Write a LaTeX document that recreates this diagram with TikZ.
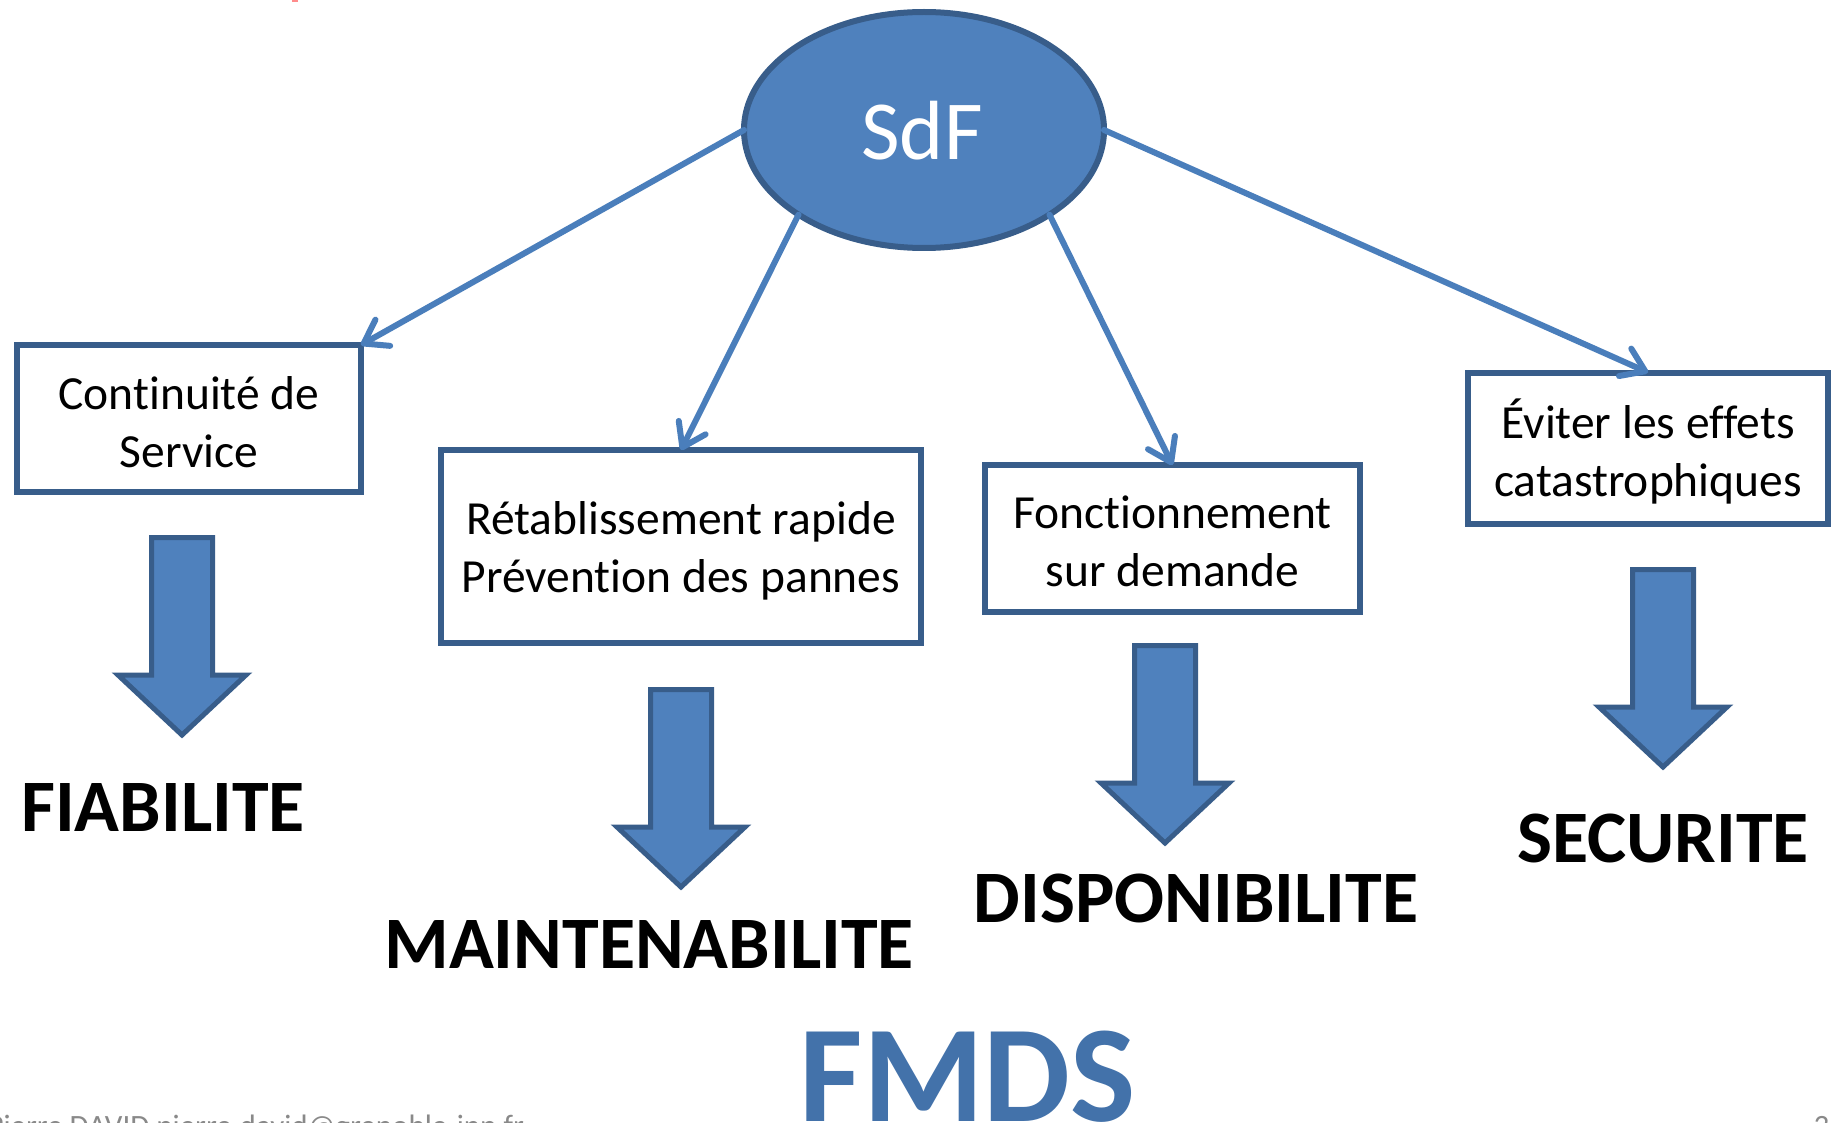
\documentclass[tikz,border=0pt]{standalone}
\usepackage{fontspec}
\setmainfont{Carlito}[Ligatures=NoCommon, Contextuals=NoAlternate, RawFeature={-clig}]
\usetikzlibrary{arrows.meta,shapes.geometric}

\definecolor{sdfblue}{RGB}{79,129,189}
\definecolor{sdfdark}{RGB}{56,93,138}
\definecolor{linkblue}{RGB}{74,126,187}
\definecolor{titleblue}{RGB}{67,114,170}
\definecolor{footgray}{RGB}{137,137,137}

\tikzset{
  rootnode/.style={ellipse, draw=sdfdark, fill=sdfblue, line width=6pt,
    minimum width=360pt, minimum height=236pt, inner sep=0pt, outer sep=0pt},
  textbox/.style={rectangle, draw=sdfdark, fill=white, line width=6pt,
    inner sep=0pt, outer sep=0pt, align=center,
    font=\fontsize{47.5}{58}\selectfont},
  boxtext/.style={align=center, font=\fontsize{47.5}{58}\selectfont},
  conn/.style={draw=linkblue, line width=6pt, line cap=round,
    -{Straight Barb[round, length=22pt, width=30pt]}},
  bigarrow/.style={fill=sdfblue, draw=sdfdark, line width=5pt, line join=miter},
  quality/.style={anchor=base, font=\fontsize{74}{80}\selectfont\bfseries},
  footer/.style={anchor=base west, text=footgray, font=\fontsize{31}{36}\selectfont}
}

% thick downward block arrow: centre x, top y
\newcommand{\blockdown}[2]{%
  \draw[bigarrow] (#1-30.5,#2+2.5) -- (#1+30.5,#2+2.5) -- (#1+30.5,#2+140)
    -- (#1+64,#2+140) -- (#1,#2+200) -- (#1-64,#2+140) -- (#1-30.5,#2+140) -- cycle;}

\begin{document}
\begin{tikzpicture}[x=1pt, y=-1pt]
  \useasboundingbox (0,0) rectangle (1831,1123);
  \clip (0,0) rectangle (1831,1123);
  \fill[white] (0,0) rectangle (1831,1123);

  % fragment of a heading above the frame
  \fill[red!45!white] (292,0) rectangle (298,2);

  % root
  \node[rootnode] (sdf) at (924,130) {};
  \node[anchor=base, text=white, font=\fontsize{84}{100}\selectfont] (sdflabel) at (922,160) {SdF};

  % the four requirement boxes
  \node[textbox, minimum width=344pt, minimum height=147pt] (b1) at (189,418.5) {};
  \node[textbox, minimum width=480pt, minimum height=193pt] (b2) at (681,546.5) {};
  \node[textbox, minimum width=375pt, minimum height=147pt] (b3) at (1172.5,538.5) {};
  \node[textbox, minimum width=360pt, minimum height=151pt] (b4) at (1648,448) {};
  \node[boxtext] (t1) at ([yshift=-3.5pt]b1.center) {Continuité de\\Service};
  \node[boxtext] (t2) at ([yshift=-4pt]b2.center) {Rétablissement rapide\\Prévention des pannes};
  \node[boxtext] (t3) at ([yshift=-3pt]b3.center) {Fonctionnement\\sur demande};
  \node[boxtext] (t4) at ([yshift=-3.5pt]b4.center) {Éviter les effets\\catastrophiques};

  % links from the root
  \draw[conn] (sdf.west) -- (b1.north east);
  \draw[conn] (sdf.214) -- (b2.north);
  \draw[conn] (sdf.326) -- (b3.north);
  \draw[conn] (sdf.east) -- (b4.north);

  % block arrows down to the attributes
  \blockdown{182}{535}
  \blockdown{681}{687}
  \blockdown{1165}{643}
  \blockdown{1663}{567}

  % attributes
  \node[quality] (fia) at (163,831) {FIABILITE};
  \node[quality] (mai) at (649,968) {MAINTENABILITE};
  \node[quality] (dis) at (1196,922) {DISPONIBILITE};
  \node[quality] (sec) at (1663,862) {SECURITE};

  % summary
  \node[anchor=base, text=titleblue, font=\fontsize{138}{150}\selectfont\bfseries] (fmds) at (968,1121) {FMDS};

  % footer
  \node[footer] (author) at (-16,1136) {Pierre DAVID pierre.david@grenoble-inp.fr};
  \node[footer] (page) at (1810,1136) {35};
\end{tikzpicture}
\end{document}
